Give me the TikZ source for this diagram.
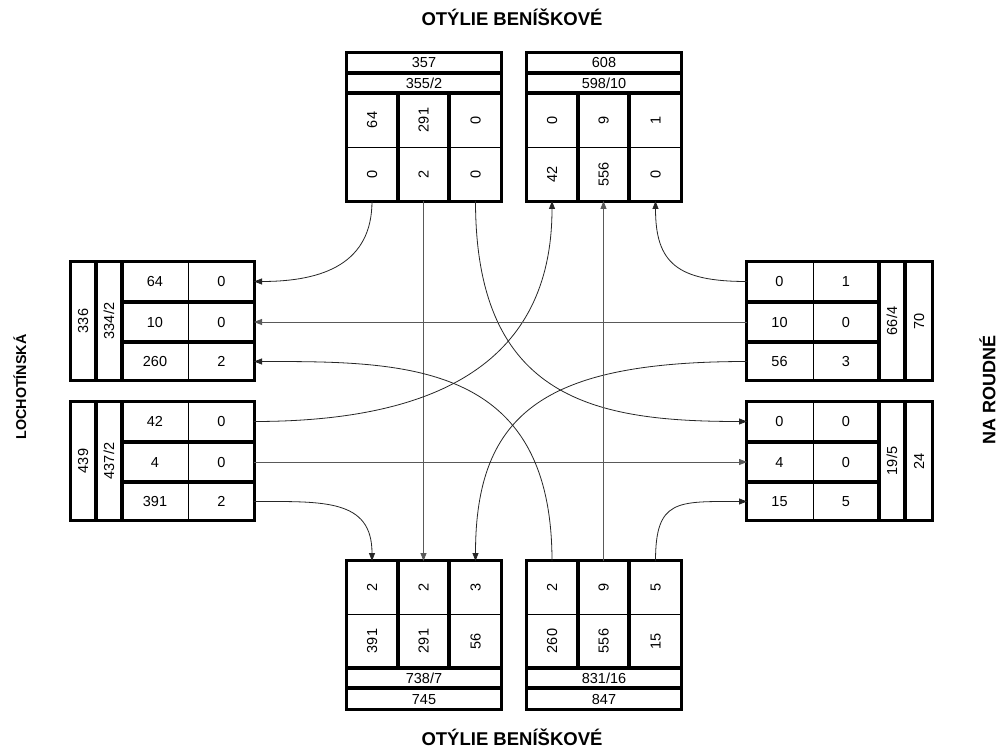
\documentclass[tikz,border=0pt]{standalone}
\usepackage{fontspec}
\setmainfont{Liberation Sans}
\usetikzlibrary{arrows.meta}

\tikzset{
  frame/.style={draw, line width=1.6pt, inner sep=0pt, outer sep=0pt},
  part/.style={draw, line width=1.2pt, inner sep=0pt, outer sep=0pt},
  divider/.style={line width=0.6pt},
  num/.style={font=\fontsize{14.5}{16}\selectfont, inner sep=0pt,
              text height=10.4pt, text depth=0pt},
  street/.style={font=\bfseries\fontsize{18.5}{21}\selectfont, inner sep=0pt,
                 text height=13.2pt, text depth=0pt},
  link/.style={draw=black!85, line width=0.8pt,
               -{Triangle[length=8pt,width=6pt]}},
  through/.style={link, draw=black!65},
}

% lane of two cells stacked vertically: name, x-left, x-right, y-top, y-bottom, divider y, upper, lower
\newcommand\laneV[8]{%
  \node[part, minimum width={#3-#2-2}, minimum height={#5-#4-2}] (#1) at ({(#2+#3)/2},{(#4+#5)/2}) {};
  \draw[divider] ({#2+1},#6) -- ({#3-1},#6);
  \node[num, rotate=90] (#1a) at ({(#2+#3)/2},{(#4+#6)/2}) {#7};
  \node[num, rotate=90] (#1b) at ({(#2+#3)/2},{(#6+#5)/2}) {#8};
}
% lane of two cells side by side: name, x-left, x-right, y-top, y-bottom, divider x, left, right
\newcommand\laneH[8]{%
  \node[part, minimum width={#3-#2-2}, minimum height={#5-#4-2}] (#1) at ({(#2+#3)/2},{(#4+#5)/2}) {};
  \draw[divider] (#6,{#4+1}) -- (#6,{#5-1});
  \node[num] (#1a) at ({(#2+#6)/2},{(#4+#5)/2}) {#7};
  \node[num] (#1b) at ({(#6+#3)/2},{(#4+#5)/2}) {#8};
}
% total / sum strip: name, x-left, x-right, y-top, y-bottom, rotation, text
\newcommand\strip[7]{%
  \node[part, minimum width={#3-#2-2}, minimum height={#5-#4-2}] (#1) at ({(#2+#3)/2},{(#4+#5)/2}) {};
  \node[num, rotate=#6] (#1t) at ({(#2+#3)/2},{(#4+#5)/2}) {#7};
}

\begin{document}
\begin{tikzpicture}[x=1pt, y=-1pt]
\fill[white] (0,0) rectangle (999,751);
\useasboundingbox (0,0) rectangle (999,751);

% street names
\node[street] (north) at (512,19) {OTÝLIE BENÍŠKOVÉ};
\node[street] (south) at (512,739) {OTÝLIE BENÍŠKOVÉ};
\node[street, rotate=90, font=\bfseries\fontsize{14.3}{16}\selectfont,
      text height=10.2pt] (west) at (21,387) {LOCHOTÍNSKÁ};
\node[street, rotate=90, font=\bfseries\fontsize{18}{21}\selectfont,
      text height=12.9pt] (east) at (989,390) {NA ROUDNÉ};

% ---- north, left box
\node[frame, minimum width=156, minimum height=150] (tl) at (424,127) {};
\strip{tltot}{346}{502}{52}{73}{0}{357}
\strip{tlsub}{346}{502}{73}{93}{0}{355/2}
\laneV{tl1}{346}{398}{93}{202}{147}{64}{0}
\laneV{tl2}{398}{449}{93}{202}{147}{291}{2}
\laneV{tl3}{449}{502}{93}{202}{147}{0}{0}

% ---- north, right box
\node[frame, minimum width=156, minimum height=150] (tr) at (604,127) {};
\strip{trtot}{526}{682}{52}{73}{0}{608}
\strip{trsub}{526}{682}{73}{93}{0}{598/10}
\laneV{tr1}{526}{578}{93}{202}{147}{0}{42}
\laneV{tr2}{578}{629}{93}{202}{147}{9}{556}
\laneV{tr3}{629}{682}{93}{202}{147}{1}{0}

% ---- south, left box
\node[frame, minimum width=156, minimum height=150] (bl) at (424,635) {};
\laneV{bl1}{346}{398}{560}{668}{614}{2}{391}
\laneV{bl2}{398}{449}{560}{668}{614}{2}{291}
\laneV{bl3}{449}{502}{560}{668}{614}{3}{56}
\strip{blsub}{346}{502}{668}{688}{0}{738/7}
\strip{bltot}{346}{502}{688}{710}{0}{745}

% ---- south, right box
\node[frame, minimum width=156, minimum height=150] (br) at (604,635) {};
\laneV{br1}{526}{578}{560}{668}{614}{2}{260}
\laneV{br2}{578}{629}{560}{668}{614}{9}{556}
\laneV{br3}{629}{682}{560}{668}{614}{5}{15}
\strip{brsub}{526}{682}{668}{688}{0}{831/16}
\strip{brtot}{526}{682}{688}{710}{0}{847}

% ---- west, upper box
\node[frame, minimum width=185, minimum height=120] (lu) at (162.5,321) {};
\strip{lutot}{70}{96}{261}{381}{90}{336}
\strip{lusub}{96}{122}{261}{381}{90}{334/2}
\laneH{lu1}{122}{255}{261}{302}{188}{64}{0}
\laneH{lu2}{122}{255}{302}{342}{188}{10}{0}
\laneH{lu3}{122}{255}{342}{381}{188}{260}{2}

% ---- west, lower box
\node[frame, minimum width=185, minimum height=120] (ll) at (162.5,461) {};
\strip{lltot}{70}{96}{401}{521}{90}{439}
\strip{llsub}{96}{122}{401}{521}{90}{437/2}
\laneH{ll1}{122}{255}{401}{442}{188}{42}{0}
\laneH{ll2}{122}{255}{442}{482}{188}{4}{0}
\laneH{ll3}{122}{255}{482}{521}{188}{391}{2}

% ---- east, upper box
\node[frame, minimum width=187, minimum height=120] (ru) at (839.5,321) {};
\laneH{ru1}{746}{879}{261}{302}{813}{0}{1}
\laneH{ru2}{746}{879}{302}{342}{813}{10}{0}
\laneH{ru3}{746}{879}{342}{381}{813}{56}{3}
\strip{rusub}{879}{905}{261}{381}{90}{66/4}
\strip{rutot}{905}{933}{261}{381}{90}{70}

% ---- east, lower box
\node[frame, minimum width=187, minimum height=120] (rl) at (839.5,461) {};
\laneH{rl1}{746}{879}{401}{442}{813}{0}{0}
\laneH{rl2}{746}{879}{442}{482}{813}{4}{0}
\laneH{rl3}{746}{879}{482}{521}{813}{15}{5}
\strip{rlsub}{879}{905}{401}{521}{90}{19/5}
\strip{rltot}{905}{933}{401}{521}{90}{24}

% ---- turning movements
\draw[link] (tl1.south) .. controls +(0,62) and +(70,0) .. (lu1.east);
\draw[through] (tl2.south) -- (bl2.north);
\draw[link] (tl3.south) .. controls +(0,200) and +(-150,0) .. (rl1.west);

\draw[link] (ll1.east) .. controls +(200,0) and +(0,150) .. (tr1.south);
\draw[through] (ll2.east) -- (rl2.west);
\draw[link] (ll3.east) .. controls +(70,0) and +(0,-62) .. (bl1.north);

\draw[link] (ru1.west) .. controls +(-70,0) and +(0,62) .. (tr3.south);
\draw[through] (ru2.west) -- (lu2.east);
\draw[link] (ru3.west) .. controls +(-200,0) and +(0,-150) .. (bl3.north);

\draw[link] (br1.north) .. controls +(0,-200) and +(150,0) .. (lu3.east);
\draw[through] (br2.north) -- (tr2.south);
\draw[link] (br3.north) .. controls +(0,-62) and +(-70,0) .. (rl3.west);
\end{tikzpicture}
\end{document}
